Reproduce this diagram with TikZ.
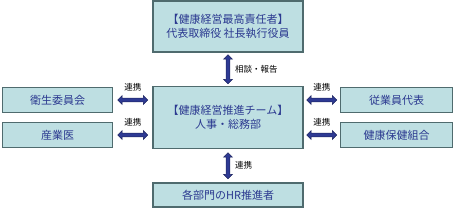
\documentclass[tikz,border=0pt]{standalone}
\usepackage{fontspec}
\setmainfont{Noto Sans CJK JP}
\usetikzlibrary{shapes.arrows}
\definecolor{boxfill}{HTML}{BEDFE2}
\definecolor{boxline}{HTML}{4F6B6E}
\definecolor{txtblue}{HTML}{2B3990}
\definecolor{arrfill}{HTML}{2E3A94}
\definecolor{arrline}{HTML}{1E2560}
\begin{document}
\begin{tikzpicture}[x=1pt,y=-1pt,
  orgbox/.style={draw=boxline,line width=1.2pt,fill=boxfill,text=txtblue,font=\fontsize{11}{14}\selectfont,align=center,inner sep=0pt},
  lbl/.style={font=\fontsize{8.5}{9}\selectfont,text=black,inner sep=0pt},
  dblarr/.style={double arrow,fill=arrfill,draw=arrline,line width=0.5pt,minimum height=#1,inner sep=1.6pt,double arrow head extend=2.6pt,double arrow head indent=0pt}]
\useasboundingbox (0,0) rectangle (454,210);
\node[orgbox,minimum width=150pt,minimum height=51pt] (top) at (228,26.5) {【健康経営最高責任者】\\代表取締役\ 社長執行役員};
\node[orgbox,minimum width=150pt,minimum height=62pt] (mid) at (228,117.5) {【健康経営推進チーム】\\人事・総務部};
\node[orgbox,minimum width=150pt,minimum height=24pt] (bot) at (228,195) {各部門のHR推進者};
\node[orgbox,minimum width=110pt,minimum height=25pt] (l1) at (57.5,100) {衛生委員会};
\node[orgbox,minimum width=110pt,minimum height=25pt] (l2) at (57.5,135) {産業医};
\node[orgbox,minimum width=112pt,minimum height=25pt] (r1) at (396.5,100) {従業員代表};
\node[orgbox,minimum width=112pt,minimum height=25pt] (r2) at (396.5,135) {健康保健組合};
\path (top.south) -- (mid.north) node[midway,dblarr=29pt,rotate=90] (a1) {};
\path (mid.south) -- (bot.north) node[midway,dblarr=26pt,rotate=90] (a2) {};
\path (l1.east) -- (l1.east -| mid.west) node[midway,dblarr=30pt] (a3) {};
\path (l2.east) -- (l2.east -| mid.west) node[midway,dblarr=30pt] (a4) {};
\path (r1.west -| mid.east) -- (r1.west) node[midway,dblarr=30pt] (a5) {};
\path (r2.west -| mid.east) -- (r2.west) node[midway,dblarr=30pt] (a6) {};
\node[lbl,anchor=west] at ([xshift=7pt]a1.center) {相談・報告};
\node[lbl,anchor=west] at ([xshift=7pt]a2.center) {連携};
\node[lbl] at ([yshift=13pt]a3.center) {連携};
\node[lbl] at ([yshift=13pt]a4.center) {連携};
\node[lbl] at ([yshift=13pt]a5.center) {連携};
\node[lbl] at ([yshift=13pt]a6.center) {連携};
\end{tikzpicture}
\end{document}
